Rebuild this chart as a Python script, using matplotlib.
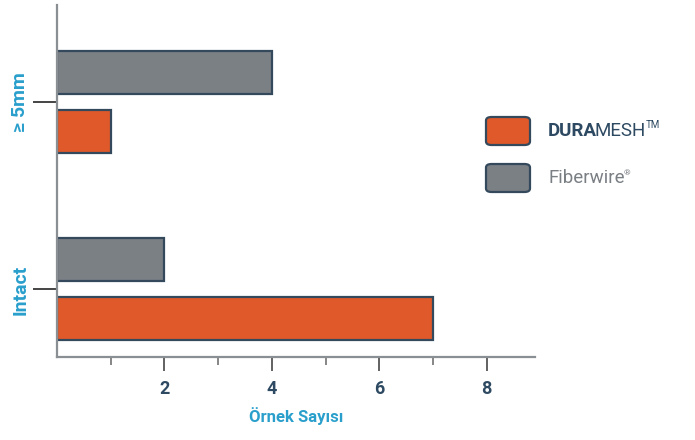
import matplotlib
matplotlib.use("Agg")
import matplotlib.pyplot as plt
from matplotlib.patches import FancyBboxPatch

plt.rcParams['font.family'] = ['Roboto', 'DejaVu Sans']

categories = ["Intact", "\u2265 5mm"]
duramesh = [7, 1]
fiberwire = [2, 4]
series_names = ["DURA", "MESH", "TM", "Fiberwire", "\u00ae"]

orange = "#E0592A"
grey = "#7B8085"
edge = "#34495C"
blue = "#2A9FCC"
navy = "#2E4A62"

fig = plt.figure(figsize=(6.95, 4.4), dpi=100)
ax = fig.add_axes([0.082, 0.189, 0.688, 0.8])

ypos = list(range(len(categories)))
h = 0.23
ax.barh([y - 0.155 for y in ypos], duramesh, height=h, color=orange,
        edgecolor=edge, linewidth=1.6)
ax.barh([y + 0.16 for y in ypos], fiberwire, height=h, color=grey,
        edgecolor=edge, linewidth=1.6)

ax.set_xlim(0, 8.9)
ax.set_ylim(-0.36, 1.52)
ax.set_yticks(ypos)
ax.set_yticklabels(categories, rotation=90, va="center", color=blue,
                   fontsize=14, fontweight="bold")
ax.tick_params(axis="y", length=17, width=1.4, color="#444444", pad=3)
ax.set_xticks([2, 4, 6, 8])
ax.set_xticks([1, 3, 5, 7], minor=True)
ax.set_xticklabels(["2", "4", "6", "8"], color=navy, fontsize=13, fontweight="bold")
ax.tick_params(axis="x", which="major", length=10, width=1.3, color="#555555", pad=7)
ax.tick_params(axis="x", which="minor", length=6, width=1.1, color="#666666")
ax.set_xlabel("\u00d6rnek Say\u0131s\u0131", color=blue, fontsize=12,
              fontweight="bold", labelpad=6)
for s in ["top", "right"]:
    ax.spines[s].set_visible(False)
for s in ["left", "bottom"]:
    ax.spines[s].set_color("#8A8F94")
    ax.spines[s].set_linewidth(1.6)

# legend, drawn by hand
W, H = 695.0, 440.0
for (y0, col) in [(117, orange), (164, grey)]:
    p = FancyBboxPatch((486 / W, 1 - (y0 + 28) / H), 44 / W, 28 / H,
                       boxstyle="round,pad=0,rounding_size=0.008",
                       transform=fig.transFigure, facecolor=col,
                       edgecolor=edge, linewidth=1.6)
    fig.patches.append(p)

t1 = fig.text(548 / W, 1 - 131 / H, series_names[0], color=navy, fontsize=13.5,
              fontweight="bold", va="center")
fig.canvas.draw()
bb = t1.get_window_extent()
t2 = fig.text(bb.x1 / W - 0.003, 1 - 131 / H, series_names[1], color=navy,
              fontsize=13.5, va="center")
bb2 = t2.get_window_extent()
fig.text(bb2.x1 / W - 0.001, 1 - 125 / H, series_names[2], color=navy,
         fontsize=7, va="center")
t4 = fig.text(548 / W, 1 - 178 / H, series_names[3], color="#7A7F84",
              fontsize=13.5, va="center")
bb4 = t4.get_window_extent()
fig.text(bb4.x1 / W - 0.001, 1 - 173 / H, series_names[4], color="#7A7F84",
         fontsize=6, va="center")

fig.savefig("out.png", dpi=100)
